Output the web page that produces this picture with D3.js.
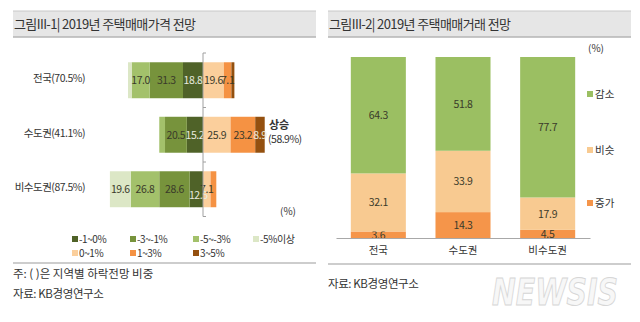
<!DOCTYPE html>
<meta charset="utf-8">
<script src="https://d3js.org/d3.v7.min.js"></script>
<style>
  body { margin: 0; background: #fff; }
  text { font-family: "Noto Sans CJK KR", "Noto Sans", sans-serif; fill: #333; }
</style>
<div id="chart"></div>
<script>
// ---- data: left chart (price outlook, % of respondents) ----
var priceCats = ["전국(70.5%)", "수도권(41.1%)", "비수도권(87.5%)"];
var negKeys = ["-1~0%", "-3~-1%", "-5~-3%", "-5%이상"];   // stacked outward from 0
var posKeys = ["0~1%", "1~3%", "3~5%"];
var negM1to0 = [18.8, 15.2, 12.5];
var negM3toM1 = [31.3, 20.5, 28.6];
var negM5toM3 = [17.0, 5.4, 26.8];
var negM5over = [3.4, 0, 19.6];
var pos0to1 = [19.6, 25.9, 7.1];
var pos1to3 = [7.1, 23.2, 5.4];
var pos3to5 = [2.8, 8.9, 0];

// ---- data: right chart (transaction outlook) ----
var tradeCats = ["전국", "수도권", "비수도권"];
var tradeKeys = ["증가", "비슷", "감소"];
var tradeUp = [3.6, 14.3, 4.5];
var tradeSame = [32.1, 33.9, 17.9];
var tradeDown = [64.3, 51.8, 77.7];

var colors = {
  "-1~0%": "#4f6228", "-3~-1%": "#77933c", "-5~-3%": "#a3c16b", "-5%이상": "#dce7c6",
  "0~1%": "#fbcf9c", "1~3%": "#f59243", "3~5%": "#94500f",
  "감소": "#9bbf62", "비슷": "#f8ca91", "증가": "#f5954a"
};
var darkKeys = ["-1~0%", "3~5%"];

var svg = d3.select("#chart").append("svg")
  .attr("width", 640).attr("height", 322);

// title bands
function titleBand(x0, x1, label) {
  svg.append("rect").attr("x", x0).attr("y", 11).attr("width", x1 - x0).attr("height", 26)
    .attr("fill", "#e6e6e6");
  svg.append("line").attr("x1", x0).attr("x2", x1).attr("y1", 11).attr("y2", 11)
    .attr("stroke", "#c8c8c8");
  svg.append("line").attr("x1", x0).attr("x2", x1).attr("y1", 37).attr("y2", 37)
    .attr("stroke", "#b4b4b4").attr("stroke-width", 1.5);
  svg.append("text").attr("x", x0 + 1).attr("y", 29).attr("font-size", 13)
    .attr("letter-spacing", -0.6).text(label);
}
titleBand(13, 316, "그림III-1| 2019년 주택매매가격 전망");
titleBand(328, 631, "그림III-2| 2019년 주택매매거래 전망");

// ================= left chart =================
var x = d3.scaleLinear().domain([-100, 100]).range([96.6, 309.4]);
var y = d3.scaleBand().domain(priceCats).range([53, 216.5])
  .paddingInner(0.34).paddingOuter(0.17);

var negVals = [negM1to0, negM3toM1, negM5toM3, negM5over];
var posVals = [pos0to1, pos1to3, pos3to5];

var segs = [];
priceCats.forEach(function(c, i) {
  var acc = 0;
  negKeys.forEach(function(k, j) {
    var v = negVals[j][i];
    segs.push({cat: c, key: k, v: v, x0: -(acc + v), x1: -acc});
    acc += v;
  });
  acc = 0;
  posKeys.forEach(function(k, j) {
    var v = posVals[j][i];
    segs.push({cat: c, key: k, v: v, x0: acc, x1: acc + v});
    acc += v;
  });
});

var left = svg.append("g");
left.selectAll("rect.seg").data(segs.filter(function(d) { return d.v > 0; }))
  .enter().append("rect")
  .attr("x", function(d) { return x(d.x0); })
  .attr("width", function(d) { return x(d.x1) - x(d.x0); })
  .attr("y", function(d) { return y(d.cat); })
  .attr("height", y.bandwidth())
  .attr("fill", function(d) { return colors[d.key]; });

// the small 12.5 label sits a bit lower in the original
function nudge(d) {
  return (d.cat === priceCats[2] && d.key === "-1~0%") ? [2, 6] : [0, 0];
}
left.selectAll("text.val").data(segs.filter(function(d) { return d.v > 6; }))
  .enter().append("text")
  .attr("x", function(d) { return (x(d.x0) + x(d.x1)) / 2 + nudge(d)[0]; })
  .attr("y", function(d) { return y(d.cat) + y.bandwidth() / 2 + 4 + nudge(d)[1]; })
  .attr("text-anchor", "middle")
  .attr("font-size", 10.5)
  .attr("letter-spacing", -0.4)
  .style("fill", function(d) { return darkKeys.indexOf(d.key) >= 0 ? "#e8eadf" : "#3a3a2a"; })
  .text(function(d) { return d.v.toFixed(1); });

// zero axis with band-boundary ticks
var axisTop = y.range()[0], axisBot = y.range()[1];
left.append("line").attr("x1", x(0)).attr("x2", x(0))
  .attr("y1", axisTop).attr("y2", axisBot).attr("stroke", "#a0a0a0");
var tickYs = priceCats.map(function(c) { return y(c) - y.step() * y.paddingInner() / 2; });
tickYs[0] = axisTop;
tickYs.push(axisBot);
left.selectAll("line.tick").data(tickYs).enter().append("line")
  .attr("x1", x(0)).attr("x2", x(0) + 3)
  .attr("y1", function(d) { return d; }).attr("y2", function(d) { return d; })
  .attr("stroke", "#a0a0a0");

// category labels
left.selectAll("text.cat").data(priceCats).enter().append("text")
  .attr("x", 85)
  .attr("y", function(d) { return y(d) + y.bandwidth() / 2 + 2; })
  .attr("text-anchor", "end")
  .attr("font-size", 10.5)
  .attr("letter-spacing", -0.5)
  .text(function(d) { return d; });

left.append("text").attr("x", 269).attr("y", 129).attr("font-size", 11)
  .attr("font-weight", "bold").text("상승");
left.append("text").attr("x", 268).attr("y", 143).attr("font-size", 10.5)
  .attr("letter-spacing", -0.5).text("(58.9%)");
left.append("text").attr("x", 280).attr("y", 215).attr("font-size", 10)
  .text("(%)");

// legend
var legLeft = [
  {k: "-1~0%", x: 72, y: 239}, {k: "-3~-1%", x: 130, y: 239},
  {k: "-5~-3%", x: 193, y: 239}, {k: "-5%이상", x: 253, y: 239},
  {k: "0~1%", x: 72, y: 253}, {k: "1~3%", x: 130, y: 253}, {k: "3~5%", x: 193, y: 253}
];
var lg = left.selectAll("g.leg").data(legLeft).enter().append("g");
lg.append("rect").attr("x", function(d) { return d.x; }).attr("y", function(d) { return d.y - 3; })
  .attr("width", 6).attr("height", 6).attr("fill", function(d) { return colors[d.k]; });
lg.append("text").attr("x", function(d) { return d.x + 7; }).attr("y", function(d) { return d.y + 4; })
  .attr("font-size", 10).attr("letter-spacing", -0.4).text(function(d) { return d.k; });

svg.append("line").attr("x1", 13).attr("x2", 316).attr("y1", 263).attr("y2", 263)
  .attr("stroke", "#bdbdbd").attr("stroke-width", 1.5);
svg.append("text").attr("x", 13).attr("y", 278).attr("font-size", 11.5)
  .text("주: ( )은 지역별 하락전망 비중");
svg.append("text").attr("x", 13).attr("y", 298).attr("font-size", 11.5)
  .attr("letter-spacing", -0.4).text("자료: KB경영연구소");

// ================= right chart =================
var xr = d3.scaleBand().domain(tradeCats).range([336, 590])
  .paddingInner(0.35).paddingOuter(0.175);
var yr = d3.scaleLinear().domain([0, 100]).range([238, 57]);

var tradeRows = tradeCats.map(function(c, i) {
  return {cat: c, "증가": tradeUp[i], "비슷": tradeSame[i], "감소": tradeDown[i]};
});
var stack = d3.stack().keys(tradeKeys)(tradeRows);

var right = svg.append("g");
var layer = right.selectAll("g.layer").data(stack).enter().append("g")
  .attr("fill", function(d) { return colors[d.key]; });
layer.selectAll("rect").data(function(d) { return d; }).enter().append("rect")
  .attr("x", function(d) { return xr(d.data.cat); })
  .attr("width", xr.bandwidth())
  .attr("y", function(d) { return yr(Math.min(d[1], 100)); })
  .attr("height", function(d) { return yr(d[0]) - yr(Math.min(d[1], 100)); });
layer.selectAll("text").data(function(d) { return d; }).enter().append("text")
  .attr("x", function(d) { return xr(d.data.cat) + xr.bandwidth() / 2; })
  .attr("y", function(d) { return (yr(d[0]) + yr(Math.min(d[1], 100))) / 2 + 4; })
  .attr("text-anchor", "middle")
  .attr("font-size", 10.5)
  .attr("letter-spacing", -0.3)
  .style("fill", "#3a3a2a")
  .text(function(d) { return (d[1] - d[0]).toFixed(1); });

var xAxis = right.append("g").attr("transform", "translate(0,238)")
  .call(d3.axisBottom(xr).tickSize(0).tickPadding(9));
xAxis.select(".domain").attr("stroke", "#a8a8a8").attr("stroke-width", 1.2);
xAxis.selectAll("text").attr("font-size", 10.5)
  .style("font-family", "\"Noto Sans CJK KR\", sans-serif").style("fill", "#333");

right.append("text").attr("x", 588).attr("y", 52).attr("font-size", 10).text("(%)");

var legRight = [{k: "감소", y: 94}, {k: "비슷", y: 150}, {k: "증가", y: 203}];
var rg = right.selectAll("g.leg").data(legRight).enter().append("g");
rg.append("rect").attr("x", 587).attr("y", function(d) { return d.y - 3; })
  .attr("width", 6).attr("height", 6).attr("fill", function(d) { return colors[d.k]; });
rg.append("text").attr("x", 595).attr("y", function(d) { return d.y + 4; })
  .attr("font-size", 10.5).text(function(d) { return d.k; });

svg.append("line").attr("x1", 328).attr("x2", 631).attr("y1", 264).attr("y2", 264)
  .attr("stroke", "#bdbdbd").attr("stroke-width", 1.5);
svg.append("text").attr("x", 328).attr("y", 288).attr("font-size", 11.5)
  .attr("letter-spacing", -0.4).text("자료: KB경영연구소");

// watermark
svg.append("text").attr("x", 492).attr("y", 305)
  .attr("font-size", 38).attr("font-weight", "bold").attr("font-style", "italic")
  .attr("textLength", 126).attr("lengthAdjust", "spacingAndGlyphs")
  .style("font-family", "\"DejaVu Sans\", sans-serif")
  .style("fill", "#f7f7f7").attr("stroke", "#d6d6d6").attr("stroke-width", 1)
  .text("NEWSIS");
</script>
